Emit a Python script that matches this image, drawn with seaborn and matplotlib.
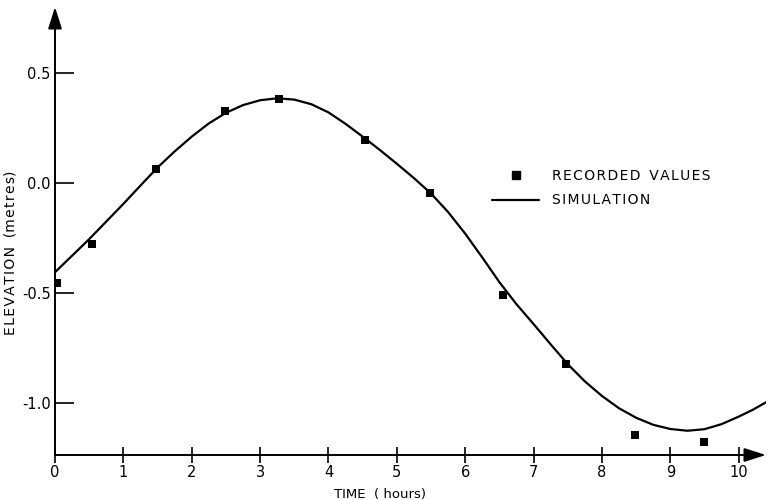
import matplotlib
matplotlib.use("Agg")
import matplotlib.pyplot as plt
import seaborn as sns
import pandas as pd
from matplotlib.lines import Line2D

# ---- data ----
rec_time = [0.03, 0.54, 1.48, 2.49, 3.27, 4.53, 5.48, 6.55, 7.47, 8.48, 9.49]
rec_elev = [-0.455, -0.277, 0.064, 0.327, 0.382, 0.195, -0.045, -0.51, -0.82, -1.145, -1.175]

sim_time = [0.0, 0.25, 0.5, 0.75, 1.0, 1.25, 1.5, 1.75, 2.0, 2.25, 2.5, 2.75, 3.0, 3.25,
            3.5, 3.75, 4.0, 4.25, 4.5, 4.75, 5.0, 5.25, 5.5, 5.75, 6.0, 6.25, 6.5, 6.75,
            7.0, 7.25, 7.5, 7.75, 8.0, 8.25, 8.5, 8.75, 9.0, 9.25, 9.5, 9.75, 10.0,
            10.2, 10.4]
sim_elev = [-0.405, -0.33, -0.255, -0.175, -0.095, -0.012, 0.07, 0.143, 0.21, 0.27,
            0.318, 0.353, 0.375, 0.384, 0.378, 0.357, 0.32, 0.268, 0.21, 0.15, 0.087,
            0.022, -0.048, -0.132, -0.23, -0.338, -0.45, -0.55, -0.64, -0.732, -0.822,
            -0.9, -0.966, -1.022, -1.065, -1.097, -1.116, -1.124, -1.117, -1.094, -1.06,
            -1.03, -0.995]

x_ticks = [0, 1, 2, 3, 4, 5, 6, 7, 8, 9, 10]
x_tick_labels = ["0", "1", "2", "3", "4", "5", "6", "7", "8", "9", "10"]
y_ticks = [0.5, 0.0, -0.5, -1.0]
y_tick_labels = ["0.5", "0.0", "-0.5", "-1.0"]

rec_df = pd.DataFrame({"time": rec_time, "elev": rec_elev})
sim_df = pd.DataFrame({"time": sim_time, "elev": sim_elev})

sns.set_theme(style="white")
plt.rcParams["font.family"] = ["DejaVu Sans"]
plt.rcParams["text.color"] = "black"
plt.rcParams["axes.labelcolor"] = "black"
plt.rcParams["xtick.color"] = "black"
plt.rcParams["ytick.color"] = "black"

W, H = 767, 500
fig = plt.figure(figsize=(W / 100, H / 100), dpi=100)
x0, x1 = 55, 766
y_bot, y_top = 455, 7
ax = fig.add_axes([x0 / W, (H - y_bot) / H, (x1 - x0) / W, (y_bot - y_top) / H])

sns.lineplot(data=sim_df, x="time", y="elev", ax=ax, color="black", linewidth=1.6,
             sort=False, estimator=None)
ax.lines[-1].set_solid_joinstyle("round")
sns.scatterplot(data=rec_df, x="time", y="elev", ax=ax, color="black", marker="s",
                s=38, edgecolor="black", linewidth=0, zorder=5)

ax.set_xlim(0, 10.4)
ax.set_ylim(-1.234, 0.798)

for s in ax.spines.values():
    s.set_visible(False)

# axes with arrow heads
ax.annotate("", xy=(0, 1), xytext=(0, 0), xycoords="axes fraction",
            arrowprops=dict(arrowstyle="-|>,head_length=1.1,head_width=0.35",
                            color="black", lw=1.4, shrinkA=0, shrinkB=0))
ax.annotate("", xy=(1, 0), xytext=(0, 0), xycoords="axes fraction",
            arrowprops=dict(arrowstyle="-|>,head_length=1.1,head_width=0.35",
                            color="black", lw=1.4, shrinkA=0, shrinkB=0))

ax.set_xticks(x_ticks)
ax.set_xticklabels(x_tick_labels)
ax.set_yticks(y_ticks)
ax.set_yticklabels(y_tick_labels)
ax.tick_params(axis="y", direction="in", length=14, width=1.2, color="black",
               labelcolor="black", labelsize=10.5, pad=3, left=True)
ax.tick_params(axis="x", direction="inout", length=11, width=1.2, color="black",
               labelcolor="black", labelsize=10.5, pad=2, bottom=True)

hs = "\u200a"
ylab = hs.join("ELEVATION") + "  " + "(" + hs.join("metres") + ")"
ax.set_xlabel("TIME  ( hours)", fontsize=9.5, color="black")
ax.set_ylabel(ylab, fontsize=10, color="black")
ax.xaxis.set_label_coords((380 - x0) / (x1 - x0), (y_bot - 488) / (y_bot - y_top))
ax.yaxis.set_label_coords((17 - x0) / (x1 - x0), (y_bot - 253) / (y_bot - y_top))

handles = [Line2D([], [], color="black", marker="s", linestyle="none", markersize=6),
           Line2D([], [], color="black", linewidth=1.6)]
labels = [hs.join("RECORDED") + "  " + hs.join("VALUES"), hs.join("SIMULATION")]
fs = 10
ax.legend(handles, labels, loc="upper left", frameon=False, fontsize=fs,
          labelcolor="black",
          bbox_to_anchor=(492 / W, (H - 169) / H), bbox_transform=fig.transFigure,
          borderpad=0, borderaxespad=0, handlelength=3.4, handletextpad=0.9,
          labelspacing=0.75)

fig.savefig("out.png", dpi=100)
